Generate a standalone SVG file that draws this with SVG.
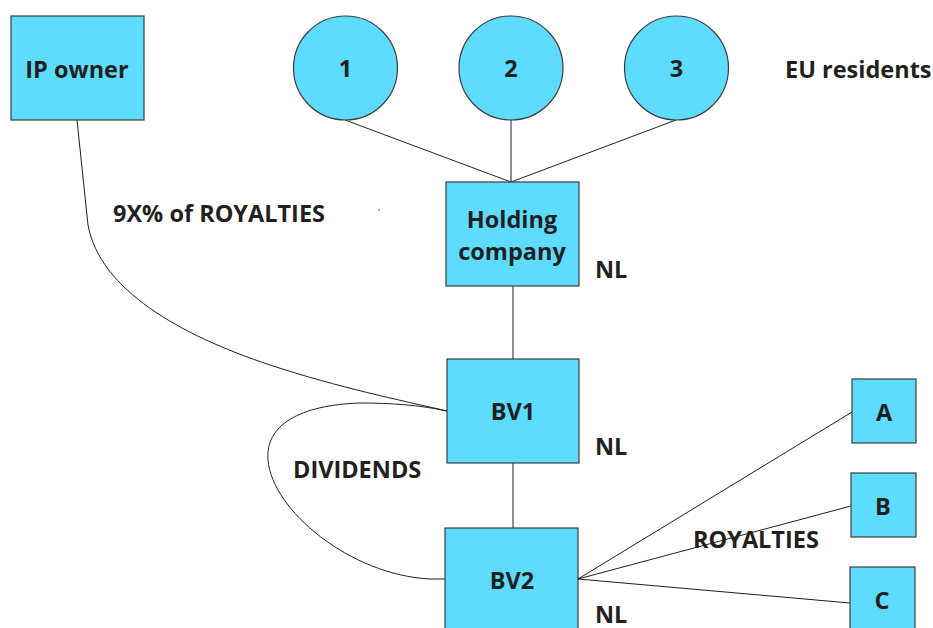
<svg xmlns="http://www.w3.org/2000/svg" width="933" height="628" viewBox="0 0 933 628">
<style>
.n{fill:#5ddcff;stroke:#3c3c3c;stroke-width:1.2}
.t{font-family:"Open Sans","Liberation Sans",sans-serif;font-weight:bold;font-size:23.5px;fill:#231f20}
.c{text-anchor:middle}
.e{fill:none;stroke:#231f20;stroke-width:1}
</style>
<rect width="933" height="628" fill="#fff"/>
<g id="connectors">
<line class="e" x1="345" y1="120" x2="511" y2="182"/>
<line class="e" x1="511" y1="120" x2="511" y2="182"/>
<line class="e" x1="676" y1="120" x2="511" y2="182"/>
<line class="e" x1="513" y1="286" x2="513" y2="359"/>
<line class="e" x1="513" y1="463" x2="513" y2="528"/>
<path class="e" d="M77,120 L88,225 C100,290 180,335 270,365 C340,388 400,400 447,411"/>
<path class="e" d="M447,411 C420,405 390,403 360,403 C300,405 265,425 268,460 C272,510 350,575 430,579 L445,579"/>
<line class="e" x1="578" y1="579" x2="852" y2="412"/>
<line class="e" x1="578" y1="579" x2="851" y2="506"/>
<line class="e" x1="578" y1="579" x2="850" y2="603"/>
<circle cx="379" cy="210" r="0.7" fill="#231f20"/>
</g>
<g id="ip-owner"><rect class="n" x="11" y="16" width="133" height="104"/><text class="t c" x="77" y="78">IP owner</text></g>
<g id="resident-1"><circle class="n" cx="345.5" cy="68" r="52"/><text class="t c" x="345.5" y="77">1</text></g>
<g id="resident-2"><circle class="n" cx="511" cy="68" r="52"/><text class="t c" x="511" y="77">2</text></g>
<g id="resident-3"><circle class="n" cx="676.5" cy="68" r="52"/><text class="t c" x="676.5" y="77">3</text></g>
<g id="holding"><rect class="n" x="446" y="182" width="133" height="104"/><text class="t c" x="512" y="228">Holding</text><text class="t c" x="512" y="260">company</text></g>
<g id="bv1"><rect class="n" x="447" y="359" width="132" height="104"/><text class="t c" x="513" y="420">BV1</text></g>
<g id="bv2"><rect class="n" x="445" y="528" width="133" height="110"/><text class="t c" x="512" y="589">BV2</text></g>
<g id="a"><rect class="n" x="852" y="379" width="64" height="64"/><text class="t c" x="884" y="421">A</text></g>
<g id="b"><rect class="n" x="851" y="473" width="65" height="64"/><text class="t c" x="883" y="515">B</text></g>
<g id="c"><rect class="n" x="850" y="567" width="65" height="70"/><text class="t c" x="882" y="609">C</text></g>
<g id="labels">
<text class="t" x="785" y="78">EU residents</text>
<text class="t" x="113" y="222">9X% of ROYALTIES</text>
<text class="t" x="595" y="278">NL</text>
<text class="t" x="595" y="455">NL</text>
<text class="t" x="595" y="623">NL</text>
<text class="t" x="293" y="478">DIVIDENDS</text>
<text class="t" x="693" y="548">ROYALTIES</text>
</g>
</svg>
